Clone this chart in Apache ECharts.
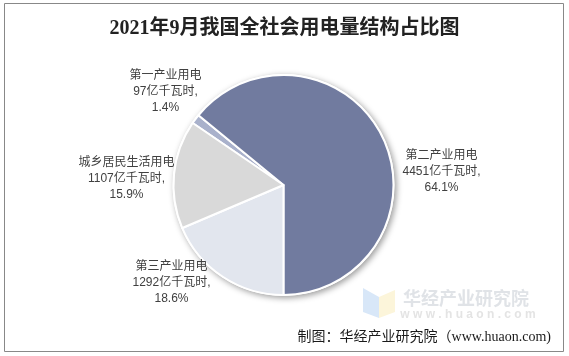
<!DOCTYPE html>
<html>
<head>
<meta charset="utf-8">
<script src="https://cdn.jsdelivr.net/npm/echarts@6/dist/echarts.min.js"></script>
<style>html,body{margin:0;padding:0;background:#fff;}#c{width:569px;height:356px;}</style>
</head>
<body>
<div id="c"></div>
<script>
const categories = ['第一产业用电', '第二产业用电', '第三产业用电', '城乡居民生活用电'];
const values = [97, 4451, 1292, 1107];
const unit = '亿千瓦时';
const colors = ['#A9B1CB', '#717B9F', '#E2E6EE', '#D9D9D9'];

const cx = 283.5, cy = 185, R = 110;
// label block centers relative to pie center
const labelOffsets = [[-118, -93], [158, -13], [-112, 98], [-157, -6]];

const chart = echarts.init(document.getElementById('c'), null, {renderer: 'canvas'});
chart.setOption({
  backgroundColor: '#fff',
  animation: false,
  title: {
    text: '2021年9月我国全社会用电量结构占比图',
    left: 'center', top: 14,
    textStyle: {fontFamily: '"Liberation Serif", "Noto Sans CJK SC"', fontWeight: 'bold', fontSize: 20, color: '#222'}
  },
  graphic: [
    {type: 'rect', shape: {x: 4.5, y: 3.5, width: 559, height: 348}, style: {fill: 'none', stroke: '#888', lineWidth: 1}, z: 10},
    {type: 'circle', shape: {cx: cx, cy: cy, r: R + 1}, style: {fill: '#fff', shadowBlur: 6, shadowColor: 'rgba(0,0,0,0.4)', shadowOffsetX: 2, shadowOffsetY: 2}, z: 0},
    {type: 'polygon', shape: {points: [[363, 288], [379, 297], [379, 318], [363, 312]]}, style: {fill: '#D8E7F8'}, z: 0},
    {type: 'polygon', shape: {points: [[379, 297], [395, 290], [395, 312], [379, 318]]}, style: {fill: '#FCF5DA'}, z: 0},
    {type: 'text', x: 403, y: 298, style: {text: '华经产业研究院', fontSize: 18, fontWeight: 'bold', fill: '#E0E3E7', fontFamily: '"Noto Sans CJK SC"', verticalAlign: 'middle'}, z: 0},
    {type: 'text', x: 468, y: 315, style: {text: 'w w w . h u a o n . c o m', fontSize: 12, fontWeight: 'bold', fill: '#E4E4E4', fontFamily: '"Liberation Sans"', align: 'center', verticalAlign: 'middle'}, z: 0},
    {type: 'text', x: 551, y: 337, style: {text: '制图：华经产业研究院（www.huaon.com)', fontSize: 14, fill: '#1a1a1a', fontFamily: '"Liberation Serif", "Noto Sans CJK SC"', align: 'right', verticalAlign: 'middle'}, z: 10}
  ],
  series: [{
    type: 'pie',
    center: [cx, cy],
    radius: R,
    startAngle: 145.67,
    clockwise: true,
    percentPrecision: 1,
    avoidLabelOverlap: false,
    z: 5,
    data: categories.map((n, i) => ({name: n, value: values[i], itemStyle: {color: colors[i]}})),
    itemStyle: {borderColor: '#fff', borderWidth: 2},
    label: {
      show: true, position: 'outside',
      formatter: p => p.name + '\n' + p.value + unit + ',\n' + p.percent.toFixed(1) + '%',
      fontSize: 12, lineHeight: 16, color: '#404040',
      fontFamily: '"Liberation Sans", "Noto Sans CJK SC"'
    },
    labelLine: {show: false},
    labelLayout: p => ({x: cx + labelOffsets[p.dataIndex][0], y: cy + labelOffsets[p.dataIndex][1], align: 'center', verticalAlign: 'middle'}),
    emphasis: {disabled: true}
  }]
});
</script>
</body>
</html>
